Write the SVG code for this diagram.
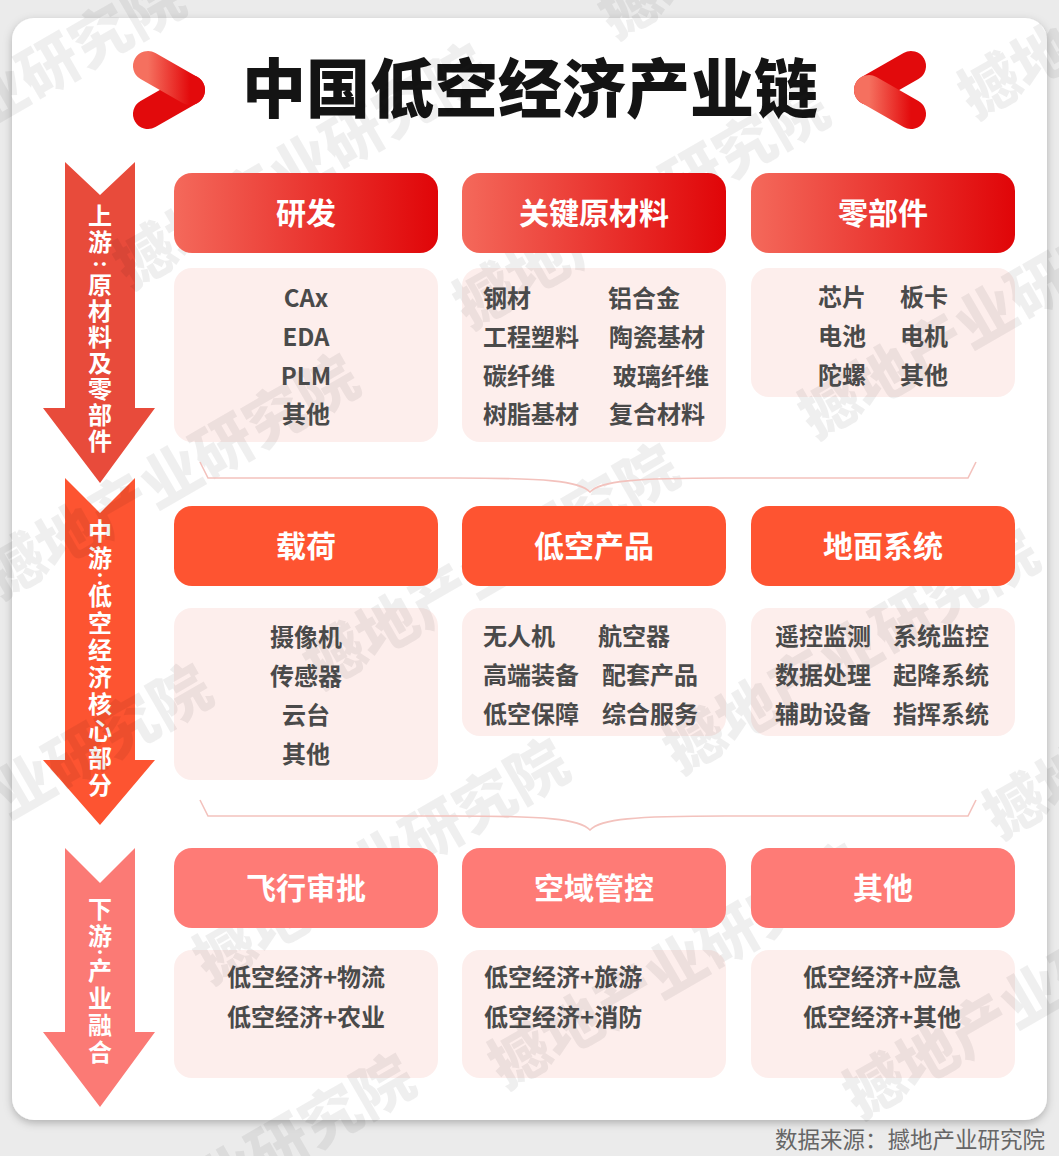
<svg xmlns="http://www.w3.org/2000/svg" width="1059" height="1156" viewBox="0 0 1059 1156">
<defs>
<style>
.cjk{font-family:"Noto Sans CJK SC","Noto Sans",sans-serif;}
.title{font-size:64px;font-weight:900;fill:#141414;}
.hdr{font-size:30px;font-weight:700;fill:#ffffff;text-anchor:middle;}
.item{font-size:24px;font-weight:700;fill:#4a4a4a;}
.mid{text-anchor:middle;}
.vt{font-size:24px;font-weight:700;fill:#ffffff;text-anchor:middle;}
.vc{font-size:20px;font-weight:700;fill:#ffffff;text-anchor:middle;}
.box{fill:#fdeeec;}
.brace{fill:none;stroke:#f3c2bd;stroke-width:1.6;}
.wm{font-size:60px;font-weight:900;fill:#000000;opacity:0.06;}
.src{font-size:22.5px;fill:#666666;text-anchor:end;}
</style>
<linearGradient id="hg" x1="0" y1="0" x2="1" y2="0">
<stop offset="0" stop-color="#f4695b"/>
<stop offset="1" stop-color="#e00508"/>
</linearGradient>
<linearGradient id="ig" x1="0" y1="0" x2="1" y2="0">
<stop offset="0" stop-color="#f5705f"/>
<stop offset="1" stop-color="#e30a0c"/>
</linearGradient>
<filter id="sh" x="-5%" y="-5%" width="110%" height="110%">
<feDropShadow dx="0" dy="3" stdDeviation="4" flood-color="#000" flood-opacity="0.25"/>
</filter>
</defs>
<rect width="1059" height="1156" fill="#ebebeb"/>
<rect x="12" y="18" width="1035" height="1102" rx="22" fill="#ffffff" filter="url(#sh)"/>

<g id="title">
<g id="icon-left">
<line x1="190" y1="90" x2="148" y2="114" stroke="#e20a0c" stroke-width="30" stroke-linecap="round"/>
<line x1="148" y1="66" x2="190" y2="90" stroke="url(#ig)" stroke-width="30" stroke-linecap="round"/>
</g>
<g id="icon-right">
<line x1="911" y1="66" x2="869" y2="90" stroke="#e20a0c" stroke-width="30" stroke-linecap="round"/>
<line x1="869" y1="90" x2="911" y2="114" stroke="url(#ig)" stroke-width="30" stroke-linecap="round"/>
</g>
<text class="cjk title" x="530" y="112" text-anchor="middle">中国低空经济产业链</text>
</g>

<g id="stage-arrows">
<g id="arrow-upstream">
<polygon points="65,162 100,195 135,162 135,408 155,408 100,483 43,408 65,408" fill="#e84b3b"/>
<text class="cjk vt"><tspan x="100" y="225">上</tspan><tspan x="100" y="251">游</tspan></text>
<text class="cjk vc" x="0" y="6" transform="translate(100,264) rotate(90)">:</text>
<text class="cjk vt"><tspan x="100" y="294">原</tspan><tspan x="100" y="320">材</tspan><tspan x="100" y="346">料</tspan><tspan x="100" y="372">及</tspan><tspan x="100" y="398">零</tspan><tspan x="100" y="424">部</tspan><tspan x="100" y="450">件</tspan></text>
</g>
<g id="arrow-midstream">
<polygon points="65,478 100,513 135,478 135,760 155,760 100,825 43,760 65,760" fill="#fd5431"/>
<text class="cjk vt"><tspan x="100" y="540">中</tspan><tspan x="100" y="567">游</tspan></text>
<text class="cjk vc" x="100" y="585">:</text>
<text class="cjk vt"><tspan x="100" y="605">低</tspan><tspan x="100" y="632">空</tspan><tspan x="100" y="659">经</tspan><tspan x="100" y="686">济</tspan><tspan x="100" y="713">核</tspan><tspan x="100" y="740">心</tspan><tspan x="100" y="767">部</tspan><tspan x="100" y="794">分</tspan></text>
</g>
<g id="arrow-downstream">
<polygon points="65,848 100,883 135,848 135,1032 155,1032 100,1107 43,1032 65,1032" fill="#fb7a75"/>
<text class="cjk vt"><tspan x="100" y="918">下</tspan><tspan x="100" y="945">游</tspan></text>
<text class="cjk vc" x="100" y="962">:</text>
<text class="cjk vt"><tspan x="100" y="980">产</tspan><tspan x="100" y="1007">业</tspan><tspan x="100" y="1034">融</tspan><tspan x="100" y="1061">合</tspan></text>
</g>
</g>

<g id="content-boxes">
<rect class="box" x="174" y="268" width="264" height="174" rx="18"/>
<rect class="box" x="462" y="268" width="264" height="174" rx="18"/>
<rect class="box" x="751" y="268" width="264" height="129" rx="18"/>
<rect class="box" x="174" y="608" width="264" height="172" rx="18"/>
<rect class="box" x="462" y="608" width="264" height="128" rx="18"/>
<rect class="box" x="751" y="608" width="264" height="128" rx="18"/>
<rect class="box" x="174" y="950" width="264" height="128" rx="18"/>
<rect class="box" x="462" y="950" width="264" height="128" rx="18"/>
<rect class="box" x="751" y="950" width="264" height="128" rx="18"/>
</g>

<g id="watermark" class="cjk">
<text class="wm" transform="translate(-174,220) rotate(-30)">撼地产业研究院</text>
<text class="wm" transform="translate(615,40) rotate(-30)">撼地产业研究院</text>
<text class="wm" transform="translate(975,120) rotate(-30)">撼地产业研究院</text>
<text class="wm" transform="translate(130,290) rotate(-30)">撼地产业研究院</text>
<text class="wm" transform="translate(470,330) rotate(-30)">撼地产业研究院</text>
<text class="wm" transform="translate(815,440) rotate(-30)">撼地产业研究院</text>
<text class="wm" transform="translate(0,600) rotate(-30)">撼地产业研究院</text>
<text class="wm" transform="translate(320,690) rotate(-30)">撼地产业研究院</text>
<text class="wm" transform="translate(-147,910) rotate(-30)">撼地产业研究院</text>
<text class="wm" transform="translate(680,775) rotate(-30)">撼地产业研究院</text>
<text class="wm" transform="translate(1000,840) rotate(-30)">撼地产业研究院</text>
<text class="wm" transform="translate(210,985) rotate(-30)">撼地产业研究院</text>
<text class="wm" transform="translate(505,1090) rotate(-30)">撼地产业研究院</text>
<text class="wm" transform="translate(860,1120) rotate(-30)">撼地产业研究院</text>
<text class="wm" transform="translate(56,1300) rotate(-30)">撼地产业研究院</text>
</g>

<g id="connectors">
<path class="brace" d="M200,462 L208,478 L455,478 C545,478 580,481 590,492 C600,481 635,478 725,478 L968,478 L976,462"/>
<path class="brace" d="M200,800 L208,816 L455,816 C545,816 580,819 590,830 C600,819 635,816 725,816 L968,816 L976,800"/>
</g>

<g id="node-rd">
<rect x="174" y="173" width="264" height="80" rx="18" fill="url(#hg)"/>
<text class="cjk hdr" x="306" y="224">研发</text>
<text class="cjk item mid"><tspan x="306" y="307">CAx</tspan><tspan x="306" y="346">EDA</tspan><tspan x="306" y="385">PLM</tspan><tspan x="306" y="423">其他</tspan></text>
</g>
<g id="node-materials">
<rect x="462" y="173" width="264" height="80" rx="18" fill="url(#hg)"/>
<text class="cjk hdr" x="594" y="224">关键原材料</text>
<text class="cjk item"><tspan x="483" y="307">钢材</tspan><tspan x="483" y="346">工程塑料</tspan><tspan x="483" y="385">碳纤维</tspan><tspan x="483" y="423">树脂基材</tspan></text>
<text class="cjk item"><tspan x="608" y="307">铝合金</tspan><tspan x="609" y="346">陶瓷基材</tspan><tspan x="613" y="385">玻璃纤维</tspan><tspan x="609" y="423">复合材料</tspan></text>
</g>
<g id="node-parts">
<rect x="751" y="173" width="264" height="80" rx="18" fill="url(#hg)"/>
<text class="cjk hdr" x="883" y="224">零部件</text>
<text class="cjk item"><tspan x="818" y="306">芯片</tspan><tspan x="818" y="345">电池</tspan><tspan x="818" y="384">陀螺</tspan></text>
<text class="cjk item"><tspan x="900" y="306">板卡</tspan><tspan x="900" y="345">电机</tspan><tspan x="900" y="384">其他</tspan></text>
</g>

<g id="node-payload">
<rect x="174" y="506" width="264" height="80" rx="18" fill="#fe5431"/>
<text class="cjk hdr" x="306" y="557">载荷</text>
<text class="cjk item mid"><tspan x="306" y="646">摄像机</tspan><tspan x="306" y="685">传感器</tspan><tspan x="306" y="724">云台</tspan><tspan x="306" y="763">其他</tspan></text>
</g>
<g id="node-products">
<rect x="462" y="506" width="264" height="80" rx="18" fill="#fe5431"/>
<text class="cjk hdr" x="594" y="557">低空产品</text>
<text class="cjk item"><tspan x="483" y="645">无人机</tspan><tspan x="483" y="684">高端装备</tspan><tspan x="483" y="723">低空保障</tspan></text>
<text class="cjk item"><tspan x="598" y="645">航空器</tspan><tspan x="602" y="684">配套产品</tspan><tspan x="602" y="723">综合服务</tspan></text>
</g>
<g id="node-ground">
<rect x="751" y="506" width="264" height="80" rx="18" fill="#fe5431"/>
<text class="cjk hdr" x="883" y="557">地面系统</text>
<text class="cjk item"><tspan x="775" y="645">遥控监测</tspan><tspan x="775" y="684">数据处理</tspan><tspan x="775" y="723">辅助设备</tspan></text>
<text class="cjk item"><tspan x="893" y="645">系统监控</tspan><tspan x="893" y="684">起降系统</tspan><tspan x="893" y="723">指挥系统</tspan></text>
</g>

<g id="node-approval">
<rect x="174" y="848" width="264" height="80" rx="18" fill="#fe7b76"/>
<text class="cjk hdr" x="306" y="899">飞行审批</text>
<text class="cjk item mid"><tspan x="306" y="986">低空经济+物流</tspan><tspan x="306" y="1026">低空经济+农业</tspan></text>
</g>
<g id="node-airspace">
<rect x="462" y="848" width="264" height="80" rx="18" fill="#fe7b76"/>
<text class="cjk hdr" x="594" y="899">空域管控</text>
<text class="cjk item"><tspan x="484" y="986">低空经济+旅游</tspan><tspan x="484" y="1026">低空经济+消防</tspan></text>
</g>
<g id="node-other">
<rect x="751" y="848" width="264" height="80" rx="18" fill="#fe7b76"/>
<text class="cjk hdr" x="883" y="899">其他</text>
<text class="cjk item mid"><tspan x="882" y="986">低空经济+应急</tspan><tspan x="882" y="1026">低空经济+其他</tspan></text>
</g>

<text class="cjk src" x="1045" y="1148">数据来源：撼地产业研究院</text>
</svg>
